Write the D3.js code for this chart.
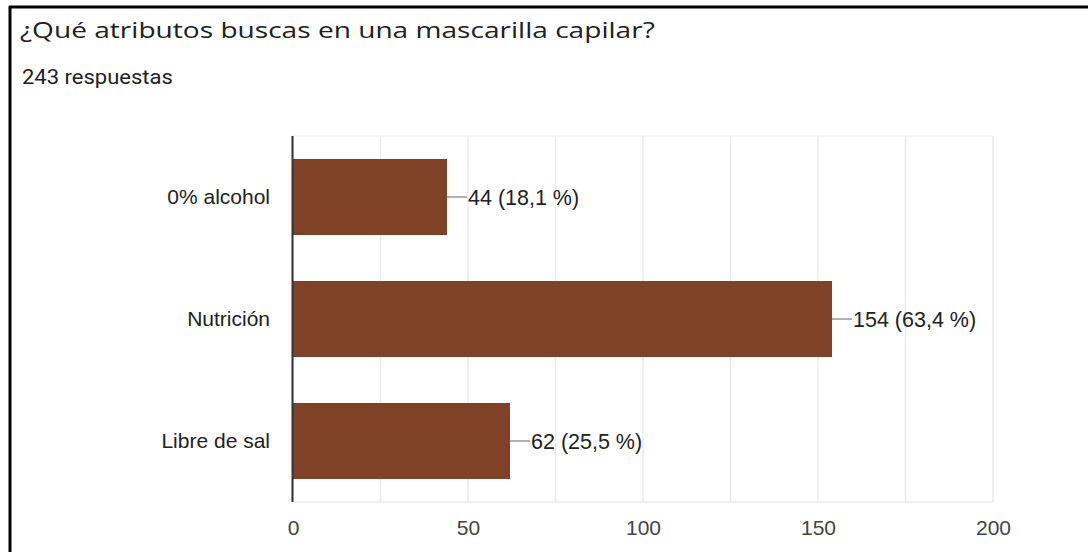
<!DOCTYPE html>
<html>
<head>
<meta charset="utf-8">
<script src="https://cdn.jsdelivr.net/npm/d3@7"></script>
<style>
  html, body { margin: 0; padding: 0; background: #fff; }
  svg { display: block; }
</style>
</head>
<body>
<svg id="chart" width="1088" height="552"></svg>
<script>
const categories = ["0% alcohol", "Nutrición", "Libre de sal"];
const counts = [44, 154, 62];
const percentLabels = ["18,1 %", "63,4 %", "25,5 %"];
const xTicks = [0, 50, 100, 150, 200];
const gridTicks = [0, 25, 50, 75, 100, 125, 150, 175, 200];
const title = "¿Qué atributos buscas en una mascarilla capilar?";
const subtitle = "243 respuestas";

(function () {
const svg = d3.select("#chart");
const W = 1088, H = 552;

svg.append("rect").attr("x", 0).attr("y", 0).attr("width", W).attr("height", H).attr("fill", "#fff");
svg.append("line").attr("x1", 9).attr("x2", W).attr("y1", 7).attr("y2", 7)
  .attr("stroke", "#000").attr("stroke-width", 3);
svg.append("line").attr("x1", 10).attr("x2", 10).attr("y1", 6).attr("y2", H)
  .attr("stroke", "#000").attr("stroke-width", 3);

// text stretched horizontally to the widths seen in the reference
function stretchedText(str, x0, y0, family, size, targetW) {
  const g = svg.append("g");
  const t = g.append("text").attr("x", 0).attr("y", 0)
    .attr("font-family", family).attr("font-size", size)
    .attr("fill", "#202124").text(str);
  const w = t.node().getComputedTextLength();
  const s = w > 0 ? targetW / w : 1;
  g.attr("transform", `translate(${x0},${y0}) scale(${s},1)`);
}
stretchedText(title, 20, 38, "Open Sans, Roboto, sans-serif", 22, 635);
stretchedText(subtitle, 22, 84, "Roboto, sans-serif", 20, 151);

const pl = 293, pr = 993, pt = 136, pb = 502;
const x = d3.scaleLinear().domain([0, 200]).range([pl, pr]);
const y = d3.scaleBand().domain(categories).range([pt, pb]).paddingInner(0.377).paddingOuter(0.1885);

svg.append("g").selectAll("line").data(gridTicks).join("line")
  .attr("x1", d => x(d)).attr("x2", d => x(d)).attr("y1", pt).attr("y2", pb)
  .attr("stroke", "#ebebeb").attr("stroke-width", 1.5);
svg.append("line").attr("x1", pl).attr("x2", pr).attr("y1", pb).attr("y2", pb)
  .attr("stroke", "#ebebeb").attr("stroke-width", 1.5);
svg.append("line").attr("x1", pl).attr("x2", pr).attr("y1", pt).attr("y2", pt)
  .attr("stroke", "#f0f0f0").attr("stroke-width", 1);

svg.append("g").selectAll("rect").data(categories).join("rect")
  .attr("x", x(0)).attr("y", d => y(d))
  .attr("width", (d, i) => x(counts[i]) - x(0))
  .attr("height", y.bandwidth())
  .attr("fill", "#7f4226");

svg.append("line").attr("x1", pl - 0.5).attr("x2", pl - 0.5).attr("y1", pt).attr("y2", pb)
  .attr("stroke", "#333").attr("stroke-width", 2);

svg.append("g").selectAll("text").data(categories).join("text")
  .attr("x", 270).attr("y", d => y(d) + y.bandwidth() / 2)
  .attr("dy", "0.35em").attr("text-anchor", "end")
  .attr("font-family", "Liberation Sans, Arial, sans-serif").attr("font-size", 21)
  .attr("fill", "#222").text(d => d);

const lab = svg.append("g");
categories.forEach((c, i) => {
  const xe = x(counts[i]);
  const yc = y(c) + y.bandwidth() / 2;
  lab.append("line").attr("x1", xe).attr("x2", xe + 20).attr("y1", yc).attr("y2", yc)
    .attr("stroke", "#999").attr("stroke-width", 1.5);
  lab.append("text").attr("x", xe + 21).attr("y", yc).attr("dy", "0.35em")
    .attr("font-family", "Liberation Sans, Arial, sans-serif").attr("font-size", 21.5)
    .attr("fill", "#222").text(`${counts[i]} (${percentLabels[i]})`);
});

const xAxis = d3.axisBottom(x).tickValues(xTicks).tickSize(0).tickPadding(0);
const ax = svg.append("g").attr("transform", `translate(0, ${pb + 18})`).call(xAxis);
ax.select(".domain").remove();
ax.selectAll("text").attr("font-family", "Liberation Sans, Arial, sans-serif")
  .attr("font-size", 21).attr("fill", "#444");
})();
</script>
</body>
</html>
